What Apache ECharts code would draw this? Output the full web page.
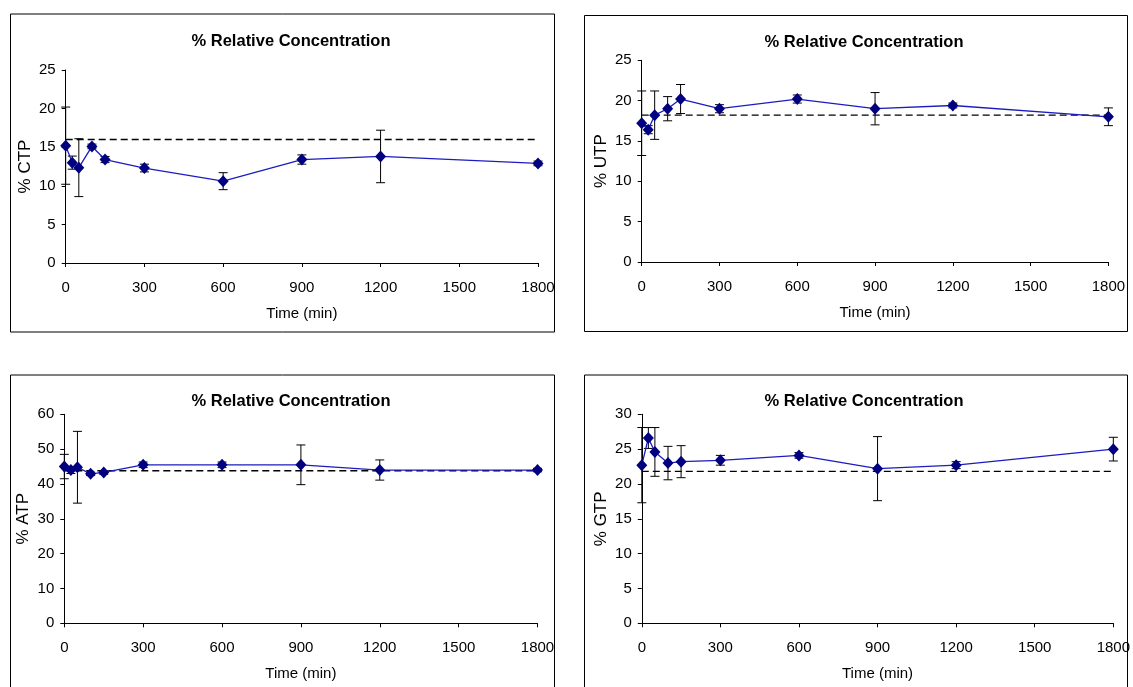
<!DOCTYPE html>
<html>
<head>
<meta charset="utf-8">
<script src="https://cdn.jsdelivr.net/npm/echarts@6/dist/echarts.min.js"></script>
<style>html,body{margin:0;padding:0;background:#fff}#c{width:1133px;height:687px}</style>
</head>
<body>
<div id="c"></div>
<script>
// ---- data ----
const times = [0, 25, 50, 100, 150, 300, 600, 900, 1200, 1800];
const xTicks = [0, 300, 600, 900, 1200, 1500, 1800];

const ctp    = [15.2, 13.0, 12.35, 15.1, 13.4, 12.3, 10.6, 13.4, 13.8, 12.9];
const ctpErr = [5.0, 0.85, 3.75, 0.3, 0.4, 0.5, 1.1, 0.6, 3.4, 0.3];
const ctpRef = 16.0;

const utp    = [17.2, 16.4, 18.2, 19.0, 20.2, 19.0, 20.2, 19.0, 19.4, 18.0];
const utpErr = [4.0, 0.5, 3.0, 1.5, 1.8, 0.5, 0.5, 2.0, 0.3, 1.1];
const utpRef = 18.2;

const atp    = [45.0, 44.0, 44.8, 42.9, 43.3, 45.5, 45.5, 45.5, 44.0, 44.0];
const atpErr = [3.5, 1.0, 10.3, 0.5, 0.5, 0.8, 0.8, 5.7, 2.9, 0.5];
const atpRef = 43.8;

const gtp    = [22.7, 26.6, 24.6, 23.0, 23.2, 23.4, 24.1, 22.2, 22.7, 25.0];
const gtpErr = [5.4, 1.5, 3.5, 2.4, 2.3, 0.7, 0.4, 4.6, 0.5, 1.7];
const gtpRef = 21.8;

const titleText = '% Relative Concentration';
const xName = 'Time (min)';

// ---- layout ----
const panels = [
  {name: '% CTP', vals: ctp, errs: ctpErr, ref: ctpRef, yMax: 25, yInt: 5,
   grid: {left: 65.7, top: 70, width: 472.3, height: 193},
   box: [10.5, 14, 544, 318], title: [286, 38]},
  {name: '% UTP', vals: utp, errs: utpErr, ref: utpRef, yMax: 25, yInt: 5,
   grid: {left: 641.7, top: 60.3, width: 466.7, height: 201.7},
   box: [584.5, 15.5, 543, 316], title: [859, 39]},
  {name: '% ATP', vals: atp, errs: atpErr, ref: atpRef, yMax: 60, yInt: 10,
   grid: {left: 64.3, top: 414.3, width: 473.2, height: 209},
   box: [10.5, 375, 544, 330], title: [286, 398]},
  {name: '% GTP', vals: gtp, errs: gtpErr, ref: gtpRef, yMax: 30, yInt: 5,
   grid: {left: 641.8, top: 414.3, width: 474.2, height: 209},
   box: [584.5, 375, 543, 330], title: [859, 398]}
];

const FONT = 'Liberation Sans, Arial, sans-serif';

function errRender(params, api) {
  const x = api.value(0), v = api.value(1), e = api.value(2);
  const top = api.coord([x, v + e]);
  const bot = api.coord([x, v - e]);
  const hw = 4.5;
  const st = {stroke: '#000', lineWidth: 1};
  return {type: 'group', children: [
    {type: 'line', shape: {x1: top[0], y1: top[1], x2: bot[0], y2: bot[1]}, style: st},
    {type: 'line', shape: {x1: top[0] - hw, y1: top[1], x2: top[0] + hw, y2: top[1]}, style: st},
    {type: 'line', shape: {x1: bot[0] - hw, y1: bot[1], x2: bot[0] + hw, y2: bot[1]}, style: st}
  ]};
}

const option = {
  animation: false,
  backgroundColor: '#fff',
  title: panels.map(p => ({
    text: titleText, left: p.title[0], top: p.title[1] - 10, textAlign: 'center',
    textStyle: {fontFamily: FONT, fontSize: 16.5, fontWeight: 'bold', color: '#000'}
  })),
  grid: panels.map(p => Object.assign({containLabel: false}, p.grid)),
  xAxis: panels.map((p, i) => ({
    type: 'value', gridIndex: i, min: xTicks[0], max: xTicks[xTicks.length - 1],
    interval: xTicks[1] - xTicks[0],
    name: xName, nameLocation: 'middle', nameGap: 43,
    nameTextStyle: {fontFamily: FONT, fontSize: 15, color: '#000'},
    axisLine: {lineStyle: {color: '#000', width: 1}},
    axisTick: {show: true, length: 4, lineStyle: {color: '#000'}},
    axisLabel: {fontFamily: FONT, fontSize: 15, color: '#000', margin: 17,
      showMinLabel: true, showMaxLabel: true, formatter: v => String(v)},
    splitLine: {show: false}
  })),
  yAxis: panels.map((p, i) => ({
    type: 'value', gridIndex: i, min: 0, max: p.yMax, interval: p.yInt,
    name: p.name, nameLocation: 'middle', nameRotate: 90, nameGap: 32,
    nameTextStyle: {fontFamily: FONT, fontSize: 17, color: '#000'},
    axisLine: {show: true, lineStyle: {color: '#000', width: 1}},
    axisTick: {show: true, length: 4, lineStyle: {color: '#000'}},
    axisLabel: {fontFamily: FONT, fontSize: 15, color: '#000', margin: 10, formatter: v => String(v)},
    splitLine: {show: false}
  })),
  graphic: panels.map(p => ({
    type: 'rect', shape: {x: p.box[0], y: p.box[1], width: p.box[2], height: p.box[3]},
    style: {fill: 'none', stroke: '#000', lineWidth: 1}, z: -10, silent: true
  })),
  series: []
};

panels.forEach((p, i) => {
  option.series.push({
    type: 'line', xAxisIndex: i, yAxisIndex: i, showSymbol: false, symbol: 'none',
    data: [[xTicks[0], p.ref], [xTicks[xTicks.length - 1], p.ref]],
    lineStyle: {color: '#000', width: 1.3, type: [7, 4]}, z: 1, silent: true
  });
  option.series.push({
    type: 'custom', xAxisIndex: i, yAxisIndex: i, renderItem: errRender,
    data: times.map((t, k) => [t, p.vals[k], p.errs[k]]),
    encode: {x: 0, y: 1}, clip: false, z: 2, silent: true
  });
  option.series.push({
    type: 'line', xAxisIndex: i, yAxisIndex: i,
    data: times.map((t, k) => [t, p.vals[k]]),
    symbol: 'diamond', symbolSize: [11, 12], showSymbol: true,
    itemStyle: {color: '#000080'},
    lineStyle: {color: '#1c1cc0', width: 1.3}, z: 3, silent: true
  });
});

const chart = echarts.init(document.getElementById('c'), null, {renderer: 'canvas'});
chart.setOption(option);
</script>
</body>
</html>
